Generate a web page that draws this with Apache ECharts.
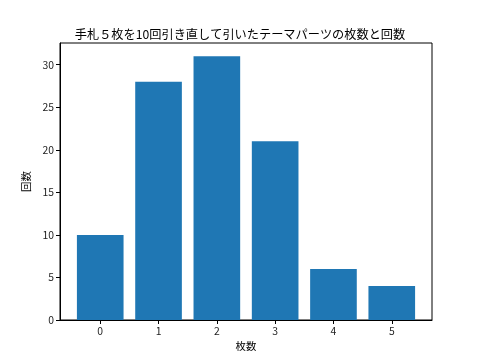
<!DOCTYPE html>
<html><head><meta charset="utf-8">
<script src="https://cdn.jsdelivr.net/npm/echarts@6/dist/echarts.min.js"></script>
<style>html,body{margin:0;padding:0;background:#fff}#c{width:480px;height:360px}</style>
</head><body><div id="c"></div>
<script>
const categories = [0, 1, 2, 3, 4, 5];
const counts = [10, 28, 31, 21, 6, 4];
const yTicks = [0, 5, 10, 15, 20, 25, 30];
const titleText = '手札５枚を10回引き直して引いたテーマパーツの枚数と回数';
const xName = '枚数';
const yName = '回数';

const font = '"Noto Sans CJK JP", "DejaVu Sans", sans-serif';
const gridL = 60, gridR = 48, gridT = 43, gridB = 40;
const xMin = -0.69, xMax = 5.69, yMax = 32.55;
const barW = (480 - gridL - gridR) / (xMax - xMin) * 0.8;

const chart = echarts.init(document.getElementById('c'), null, {renderer: 'canvas'});
chart.setOption({
  animation: false,
  backgroundColor: '#fff',
  title: {
    text: titleText, left: 'center', top: 23,
    textStyle: {fontFamily: font, fontSize: 12.2, fontWeight: 'normal', color: '#000'}
  },
  grid: {left: gridL, right: gridR, top: gridT, bottom: gridB, outerBoundsMode: 'none', containLabel: false,
    show: true, borderColor: '#000', borderWidth: 1, backgroundColor: 'transparent'},
  xAxis: {
    type: 'value', min: xMin, max: xMax,
    name: xName, nameLocation: 'middle', nameGap: 21,
    nameTextStyle: {fontFamily: font, fontSize: 10.4, color: '#000'},
    axisLine: {show: true, onZero: false, lineStyle: {color: '#000', width: 1}},
    axisTick: {show: true, inside: false, length: 4, lineStyle: {color: '#000', width: 1}, customValues: categories},
    axisLabel: {fontFamily: font, fontSize: 10.4, color: '#222', margin: 6, customValues: categories},
    splitLine: {show: false}
  },
  yAxis: {
    type: 'value', min: 0, max: yMax, interval: 5,
    name: yName, nameLocation: 'middle', nameGap: 27,
    nameTextStyle: {fontFamily: font, fontSize: 10.4, color: '#000'},
    axisLine: {show: true, onZero: false, lineStyle: {color: '#000', width: 1}},
    axisTick: {show: true, inside: false, length: 4, lineStyle: {color: '#000', width: 1}},
    axisLabel: {fontFamily: font, fontSize: 10.4, color: '#222', margin: 6, showMaxLabel: false,
      formatter: v => (yTicks.indexOf(v) >= 0 ? String(v) : '')},
    splitLine: {show: false}
  },
  series: [{
    type: 'bar',
    data: categories.map((c, i) => [c, counts[i]]),
    barWidth: barW,
    itemStyle: {color: '#1f77b4'}
  }]
});
</script></body></html>
